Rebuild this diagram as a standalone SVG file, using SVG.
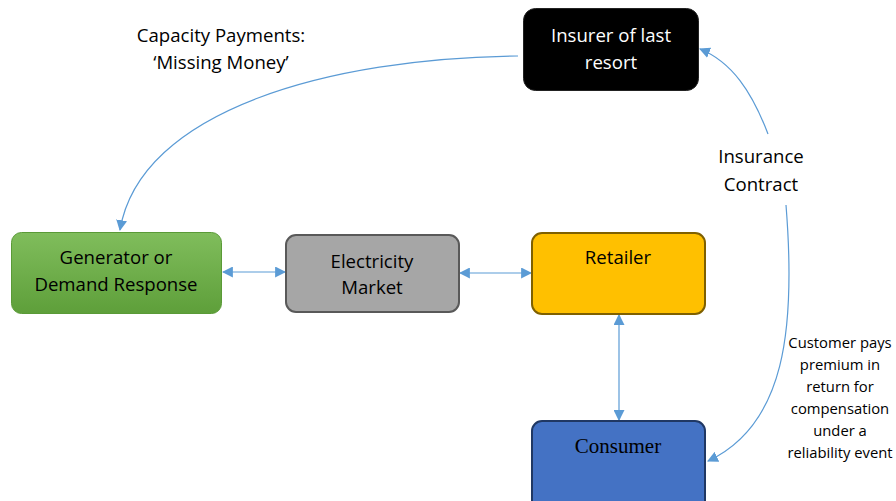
<svg xmlns="http://www.w3.org/2000/svg" width="896" height="501" viewBox="0 0 896 501">
<style>
text{font-family:"Open Sans","Liberation Sans",sans-serif;text-anchor:middle;fill:#000}
.lbl{font-size:18.6px}
.sm{font-size:14.8px}
.con{fill:none;stroke:#5b9bd5;stroke-width:1.2}
</style>
<defs>
<linearGradient id="g" x1="0" y1="0" x2="0" y2="1"><stop offset="0" stop-color="#80bd5c"/><stop offset="1" stop-color="#5e9f3a"/></linearGradient>
<marker id="a" viewBox="0 0 10 10" refX="9" refY="5" markerWidth="11" markerHeight="11" markerUnits="userSpaceOnUse" orient="auto-start-reverse"><path d="M0,0L10,5L0,10z" fill="#5b9bd5"/></marker>
</defs>
<rect width="896" height="501" fill="#fff"/>
<g id="connectors">
<path class="con" d="M223,272H285" marker-start="url(#a)" marker-end="url(#a)"/>
<path class="con" d="M460,273H531" marker-start="url(#a)" marker-end="url(#a)"/>
<path class="con" d="M619,315V420" marker-start="url(#a)" marker-end="url(#a)"/>
<path class="con" d="M518,56C330,58 140,110 120,230" marker-end="url(#a)"/>
<path class="con" d="M768,134C752,92 732,62 700,49" marker-end="url(#a)"/>
<path class="con" d="M786,205C796,330 785,425 708,461" marker-end="url(#a)"/>
</g>
<g id="insurer">
<rect x="523.5" y="8.5" width="175" height="82" rx="12" fill="#000" stroke="#222"/>
<text class="lbl" x="611" y="42" style="fill:#fff">Insurer of last</text>
<text class="lbl" x="611" y="69" style="fill:#fff">resort</text>
</g>
<g id="generator">
<rect x="11.5" y="232.5" width="210" height="81" rx="10" fill="url(#g)" stroke="#5a9a37"/>
<text class="lbl" x="116" y="264">Generator or</text>
<text class="lbl" x="116" y="291">Demand Response</text>
</g>
<g id="market">
<rect x="286" y="235" width="173" height="77" rx="10" fill="#a6a6a6" stroke="#595959" stroke-width="2"/>
<text class="lbl" x="372" y="268">Electricity</text>
<text class="lbl" x="372" y="294">Market</text>
</g>
<g id="retailer">
<rect x="532" y="233" width="173" height="81" rx="10" fill="#ffc000" stroke="#7f6000" stroke-width="2"/>
<text class="lbl" x="618" y="264">Retailer</text>
</g>
<g id="consumer">
<rect x="532" y="421" width="173" height="90" rx="10" fill="#4472c4" stroke="#203864" stroke-width="2"/>
<text x="618" y="453" style="font-family:'Liberation Serif',serif;font-size:21px">Consumer</text>
</g>
<g id="labels">
<text class="lbl" x="221" y="42">Capacity Payments:</text>
<text class="lbl" x="221" y="69">‘Missing Money’</text>
<text class="lbl" x="761" y="163">Insurance</text>
<text class="lbl" x="761" y="191">Contract</text>
<text class="sm" x="840" y="348">Customer pays</text>
<text class="sm" x="840" y="370">premium in</text>
<text class="sm" x="840" y="392">return for</text>
<text class="sm" x="840" y="414">compensation</text>
<text class="sm" x="840" y="436">under a</text>
<text class="sm" x="840" y="458">reliability event</text>
</g>
</svg>
